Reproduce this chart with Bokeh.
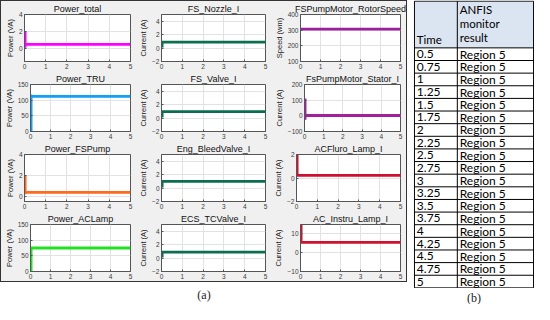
from bokeh.plotting import figure
from bokeh.layouts import row, column
from bokeh.models import Range1d, FixedTicker, Label
from bokeh.core.properties import value
from bokeh.embed import file_html
from bokeh.resources import INLINE

# ---------------- data ----------------
titles = ["Power_total", "FS_Nozzle_I", "FSPumpMotor_RotorSpeed",
          "Power_TRU", "FS_Valve_I", "FsPumpMotor_Stator_I",
          "Power_FSPump", "Eng_BleedValve_I", "ACFluro_Lamp_I",
          "Power_ACLamp", "ECS_TCValve_I", "AC_Instru_Lamp_I"]
ylabels = ["Power (VA)", "Current (A)", "Speed (wm)",
           "Power (VA)", "Current (A)", "Current (A)",
           "Power (VA)", "Current (A)", "Current (A)",
           "Power (VA)", "Current (A)", "Current (A)"]
colors = ["#ff00ff", "#0b6e4f", "#9c1f9c",
          "#12a0f5", "#0b6e4f", "#a020a0",
          "#ff6a1f", "#0b6e4f", "#d0102e",
          "#22e022", "#0b6e4f", "#d0102e"]
t_series = [[0.03, 0.03, 0.03, 5], [0.03, 0.03, 5], [0.0, 5],
            [0.03, 0.03, 0.03, 5], [0.03, 0.03, 5], [0.03, 0.03, 0.03, 5],
            [0.03, 0.03, 0.03, 5], [0.03, 0.03, 5], [0.03, 0.03, 5],
            [0.03, 0.03, 5], [0.03, 0.03, 5], [0.03, 0.03, 5]]
y_series = [[20000, 1000, 5000, 5000], [0.1, 0.9, 0.9], [307, 307],
            [0, 118, 112, 112], [0.1, 0.95, 0.95], [110, -25, 2, 2],
            [20000, 2000, 3800, 3800], [0.1, 1.0, 1.0], [2.0, 0.22, 0.22],
            [0, 75, 75], [0.1, 0.9, 0.9], [15, 5.5, 5.5]]
y_scale = [1e4, 1, 1, 1, 1, 1, 1e4, 1, 1, 1, 1, 1]
y_lims = [(-1.5, 4), (-2, 5), (100, 400),
          (0, 150), (-2, 5), (-100, 200),
          (-0.5, 4), (-2, 5), (-2, 2),
          (0, 150), (-2, 5), (-10, 15)]
y_ticks = [[0, 2, 4], [-2, 0, 2, 4], [100, 200, 300, 400],
           [0, 50, 100, 150], [-2, 0, 2, 4], [-100, 0, 100, 200],
           [0, 2, 4], [-2, 0, 2, 4], [-2, 0, 2],
           [0, 50, 100, 150], [-2, 0, 2, 4], [-10, 0, 10]]
x_ticks = [0, 1, 2, 3, 4, 5]

times = ["0.5", "0.75", "1", "1.25", "1.5", "1.75", "2", "2.25", "2.5", "2.75",
         "3", "3.25", "3.5", "3.75", "4", "4.25", "4.5", "4.75", "5"]
results = ["Region 5"] * len(times)
header_left = "Time"
header_right = "ANFIS\nmonitor\nresult"

# ---------------- style ----------------
GREY = "#f0f0f0"
AX = "#555555"
FONT = "Liberation Sans"
SUB_W, SUB_H = 135, 70


def make_sub(i):
    p = figure(width=SUB_W, height=SUB_H, output_backend="svg", toolbar_location=None,
               x_range=Range1d(0, 5), y_range=Range1d(*y_lims[i]),
               min_border_left=23, min_border_right=6, min_border_top=0, min_border_bottom=0)
    p.border_fill_color = GREY
    p.background_fill_color = "white"
    p.outline_line_color = AX
    p.outline_line_width = 1
    p.title.text = titles[i]
    p.title.align = "center"
    p.title.text_font = FONT
    p.title.text_font_size = "9px"
    p.title.text_font_style = "normal"
    p.title.text_color = "#111111"
    p.title.standoff = 1
    p.title.offset = 0
    p.xaxis.ticker = FixedTicker(ticks=x_ticks)
    p.yaxis.ticker = FixedTicker(ticks=y_ticks[i])
    for ax in (p.xaxis[0], p.yaxis[0]):
        ax.major_label_text_font = FONT
        ax.major_label_text_font_size = "6.5px"
        ax.major_label_text_color = "#3a3a3a"
        ax.major_tick_in = 2
        ax.major_tick_out = 0
        ax.minor_tick_line_color = None
        ax.axis_line_color = AX
        ax.major_tick_line_color = AX
        ax.major_label_standoff = 2
    p.yaxis.axis_label = ylabels[i]
    p.yaxis.axis_label_text_font = FONT
    p.yaxis.axis_label_text_font_size = "7.5px"
    p.yaxis.axis_label_text_font_style = "normal"
    p.yaxis.axis_label_text_color = "#222222"
    p.yaxis.axis_label_standoff = 1
    p.grid.grid_line_color = "#e2e2e2"
    p.grid.grid_line_width = 1
    ys = [v / y_scale[i] for v in y_series[i]]
    p.line(t_series[i], ys, line_width=2.8, color=colors[i])
    if y_scale[i] != 1:
        p.add_layout(Label(x=0, y=y_lims[i][1], text="\u00d710\u2074", x_offset=1, y_offset=1,
                           text_font=FONT, text_font_size="6px", text_color="#444444",
                           text_baseline="bottom", text_align="left"))
    return p


subs = [make_sub(i) for i in range(12)]
rows = [row(subs[r * 3:(r + 1) * 3], spacing=0) for r in range(4)]
panel = column(rows, spacing=0,
               styles={"border": "1px solid #333333", "background-color": GREY})

# (a) label
pa = figure(width=SUB_W * 3 + 2, height=22, output_backend="svg", toolbar_location=None,
            x_range=Range1d(0, 1), y_range=Range1d(0, 1),
            x_axis_location=None, y_axis_location=None, min_border=0)
pa.outline_line_color = None
pa.grid.visible = False
pa.text(x=[0.5], y=[0.45], text=["(a)"], text_font=value("Liberation Serif"),
        text_font_size="12px", text_align="center", text_baseline="middle", text_color="#222222")

# ---------------- table ----------------
TW, TH = 121, 288
n = len(times)
head_h = 3.7
split = 0.36
tp = figure(width=TW, height=TH, output_backend="svg", toolbar_location=None,
            x_range=Range1d(-0.008, 1.008), y_range=Range1d(-n - 0.05, head_h + 0.05),
            x_axis_location=None, y_axis_location=None, min_border=0)
tp.outline_line_color = None
tp.grid.visible = False
tp.quad(left=[0], right=[1], bottom=[0], top=[head_h], fill_color="#dbe5f1", line_color=None)
# horizontal rules
hy = [head_h] + [-k for k in range(n + 1)]
tp.segment(x0=[0] * len(hy), x1=[1] * len(hy), y0=hy, y1=hy, line_color="black", line_width=1)
# vertical rules
vx = [0, split, 1]
tp.segment(x0=vx, x1=vx, y0=[-n] * 3, y1=[head_h] * 3, line_color="black", line_width=1)
TFONT = value("Lato")
TSIZE = "12px"
ys_mid = [-(k + 0.5) for k in range(n)]
tp.text(x=[0.02] * n, y=ys_mid, text=times, text_font=TFONT, text_font_size=TSIZE,
        text_baseline="middle", text_align="left", text_color="black")
tp.text(x=[split + 0.02] * n, y=ys_mid, text=results, text_font=TFONT, text_font_size=TSIZE,
        text_baseline="middle", text_align="left", text_color="black")
tp.text(x=[0.02], y=[0.12], text=[header_left], text_font=TFONT, text_font_size="11.5px",
        text_baseline="bottom", text_align="left", text_color="black")
tp.text(x=[split + 0.02], y=[head_h - 0.12], text=[header_right], text_font=TFONT,
        text_font_size="11.5px", text_baseline="top", text_align="left", text_color="black",
        text_line_height=1.1)

pb = figure(width=TW, height=16, output_backend="svg", toolbar_location=None,
            x_range=Range1d(0, 1), y_range=Range1d(0, 1),
            x_axis_location=None, y_axis_location=None, min_border=0)
pb.outline_line_color = None
pb.grid.visible = False
pb.text(x=[0.5], y=[0.4], text=["(b)"], text_font=value("Liberation Serif"),
        text_font_size="12px", text_align="center", text_baseline="middle", text_color="#222222")

layout = row(column(panel, pa, spacing=0), column(tp, pb, spacing=0), spacing=6)

with open("out.html", "w") as f:
    f.write(file_html(layout, INLINE))
